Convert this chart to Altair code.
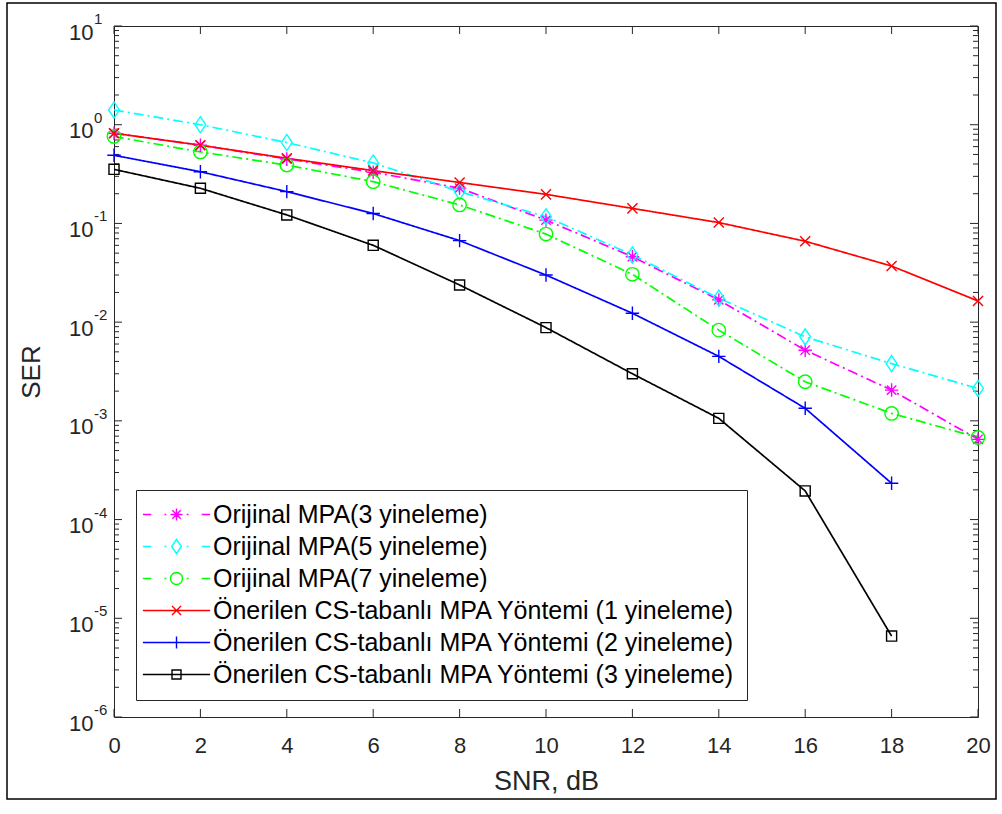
import altair as alt
import pandas as pd
import numpy as np

# ---------------- data ----------------
snr = [0, 2, 4, 6, 8, 10, 12, 14, 16, 18, 20]

series_names = [
    "Orijinal MPA(3 yineleme)",
    "Orijinal MPA(5 yineleme)",
    "Orijinal MPA(7 yineleme)",
    "Önerilen CS-tabanlı MPA Yöntemi (1 yineleme)",
    "Önerilen CS-tabanlı MPA Yöntemi (2 yineleme)",
    "Önerilen CS-tabanlı MPA Yöntemi (3 yineleme)",
]

mpa3 = [0.82, 0.62, 0.45, 0.33, 0.228, 0.108, 0.046, 0.0168, 0.0052, 0.00205, 0.00065]
mpa5 = [1.41, 1.0, 0.66, 0.41, 0.21, 0.117, 0.048, 0.0175, 0.0071, 0.0038, 0.00213]
mpa7 = [0.76, 0.53, 0.39, 0.265, 0.154, 0.078, 0.0305, 0.0083, 0.00249, 0.00119, 0.00068]
cs1 = [0.82, 0.62, 0.457, 0.343, 0.26, 0.197, 0.142, 0.102, 0.066, 0.037, 0.0164]
cs2 = [0.49, 0.334, 0.21, 0.126, 0.067, 0.030, 0.0123, 0.0045, 0.00134, 0.000233]
cs3 = [0.353, 0.227, 0.122, 0.060, 0.0238, 0.0088, 0.0030, 0.00106, 0.000195, 6.6e-6]

x_ticks = [0, 2, 4, 6, 8, 10, 12, 14, 16, 18, 20]
y_exponents = [1, 0, -1, -2, -3, -4, -5, -6]

# ---------------- styles ----------------
colors = ["#ff00ff", "#00ffff", "#00ff00", "#ff0000", "#0000ff", "#000000"]
dashdot = [10, 4, 2, 4]
dashes = [dashdot, dashdot, dashdot, [1, 0], [1, 0], [1, 0]]

m_star = "M-1,0L1,0M0,-1L0,1M-0.7,-0.7L0.7,0.7M-0.7,0.7L0.7,-0.7"
m_diamond = "M0,-1.2L0.8,0L0,1.2L-0.8,0Z"
m_circle = "M1,0A1,1,0,1,1,-1,0A1,1,0,1,1,1,0Z"
m_x = "M-0.75,-0.75L0.75,0.75M-0.75,0.75L0.75,-0.75"
m_plus = "M-1,0L1,0M0,-1L0,1"
m_square = "M-0.75,-0.75L0.75,-0.75L0.75,0.75L-0.75,0.75Z"
markers = [m_star, m_diamond, m_circle, m_x, m_plus, m_square]

dd_line = "M-5.6,0L-4.2,0M-2.0,0L-1.7,0M1.7,0L2.0,0M4.2,0L5.6,0"
solid_line = "M-5.6,0L5.6,0"
legend_paths = [
    dd_line + m_star,
    dd_line + m_diamond,
    dd_line + m_circle,
    solid_line + m_x,
    solid_line + m_plus,
    solid_line + m_square,
]

rows = []
for name, vals in zip(series_names, [mpa3, mpa5, mpa7, cs1, cs2, cs3]):
    for s, v in zip(snr, vals):
        rows.append({"snr": s, "ser": v, "series": name})
df = pd.DataFrame(rows)

W, H = 864, 691
FONT = "Liberation Sans"
TXT = "#262626"
xscale = alt.Scale(domain=[0, 20], nice=False, zero=False)
yscale = alt.Scale(type="log", domain=[1e-6, 10], nice=False)


def color_enc(legend=None):
    return alt.Color("series:N", scale=alt.Scale(domain=series_names, range=colors), legend=legend)


lines = alt.Chart(df).mark_line(strokeWidth=1.7, clip=True).encode(
    x=alt.X("snr:Q", scale=xscale,
            axis=alt.Axis(values=x_ticks, ticks=False, tickSize=0, domain=False, grid=False,
                          labelFontSize=22, labelPadding=18, labelFont=FONT, labelFlush=False,
                          labelColor=TXT, title="SNR, dB", titleFontSize=27,
                          titleFont=FONT, titleFontWeight="normal",
                          titleColor=TXT, titlePadding=12)),
    y=alt.Y("ser:Q", scale=yscale,
            axis=alt.Axis(values=[10.0 ** e for e in y_exponents], labelExpr="'10'",
                          ticks=False, tickSize=0, domain=False, grid=False, labelFlush=False,
                          labelFontSize=22, labelPadding=21, labelOffset=6,
                          labelFont=FONT, labelColor=TXT,
                          title="SER", titleFontSize=26, titleFont=FONT,
                          titleFontWeight="normal", titleColor=TXT,
                          titleX=-83, titleBaseline="middle")),
    color=color_enc(),
    strokeDash=alt.StrokeDash("series:N", scale=alt.Scale(domain=series_names, range=dashes), legend=None),
    detail="series:N",
)

points = alt.Chart(df).mark_point(filled=False, size=180, strokeWidth=1.4, opacity=1).encode(
    x=alt.X("snr:Q", scale=xscale),
    y=alt.Y("ser:Q", scale=yscale),
    color=color_enc(),
    shape=alt.Shape("series:N", scale=alt.Scale(domain=series_names, range=markers), legend=None),
)

legend_layer = alt.Chart(df).transform_filter("false").mark_point(
    filled=False, size=144, strokeWidth=1.4, opacity=1
).encode(
    x=alt.X("snr:Q", scale=xscale),
    y=alt.Y("ser:Q", scale=yscale),
    color=color_enc(alt.Legend(title=None)),
    shape=alt.Shape("series:N", scale=alt.Scale(domain=series_names, range=legend_paths),
                    legend=alt.Legend(title=None)),
)

# inward tick marks (MATLAB style), positioned through the scales
minor_vals = [m * 10.0 ** d for d in range(-6, 1) for m in range(2, 10)]
major_vals = [10.0 ** e for e in y_exponents]
ymaj = pd.DataFrame({"v": major_vals})
ymin = pd.DataFrame({"v": minor_vals})
xmaj = pd.DataFrame({"v": x_ticks})

tick_style = dict(color=TXT, strokeWidth=1)
yl_major = alt.Chart(ymaj).mark_rule(**tick_style).encode(
    y=alt.Y("v:Q", scale=yscale), x=alt.value(0), x2=alt.value(8))
yr_major = alt.Chart(ymaj).mark_rule(**tick_style).encode(
    y=alt.Y("v:Q", scale=yscale), x=alt.value(W), x2=alt.value(W - 8))
yl_minor = alt.Chart(ymin).mark_rule(**tick_style).encode(
    y=alt.Y("v:Q", scale=yscale), x=alt.value(0), x2=alt.value(5))
yr_minor = alt.Chart(ymin).mark_rule(**tick_style).encode(
    y=alt.Y("v:Q", scale=yscale), x=alt.value(W), x2=alt.value(W - 5))
xb_major = alt.Chart(xmaj).mark_rule(**tick_style).encode(
    x=alt.X("v:Q", scale=xscale), y=alt.value(H), y2=alt.value(H - 8))
xt_major = alt.Chart(xmaj).mark_rule(**tick_style).encode(
    x=alt.X("v:Q", scale=xscale), y=alt.value(0), y2=alt.value(8))

# superscript exponents for the 10^n labels
exp_df = pd.DataFrame({"v": [10.0 ** e for e in y_exponents], "t": [str(e) for e in y_exponents]})
exps = alt.Chart(exp_df).mark_text(align="left", baseline="middle", fontSize=15, dy=-7,
                                   font=FONT, color=TXT).encode(
    y=alt.Y("v:Q", scale=yscale), x=alt.value(-20), text="t:N")

# figure frame
frame = alt.Chart(pd.DataFrame({"a": [0]})).mark_rect(
    fill=None, stroke="#000000", strokeWidth=1.5).encode(
    x=alt.value(7 - 114), x2=alt.value(996 - 114), y=alt.value(3 - 26), y2=alt.value(799 - 26))

chart = alt.layer(
    frame, yl_major, yr_major, yl_minor, yr_minor, xb_major, xt_major, exps,
    lines, points, legend_layer
).resolve_scale(
    shape="independent", color="independent"
).properties(
    width=W, height=H,
    autosize=alt.AutoSizeParams(type="none"),
    padding={"left": 114, "top": 26, "right": 20, "bottom": 84},
    background="white",
).configure_view(
    stroke=TXT, strokeWidth=1
).configure_legend(
    orient="none", legendX=22, legendY=464,
    strokeColor=TXT, fillColor="white", padding=12,
    labelFontSize=25, labelFont=FONT, labelColor="#000000",
    labelLimit=800, symbolSize=144, symbolStrokeWidth=1.4,
    symbolOffset=16, labelOffset=24, rowPadding=6,
)

chart.save("out.html", embed_options={"renderer": "svg", "actions": False})
